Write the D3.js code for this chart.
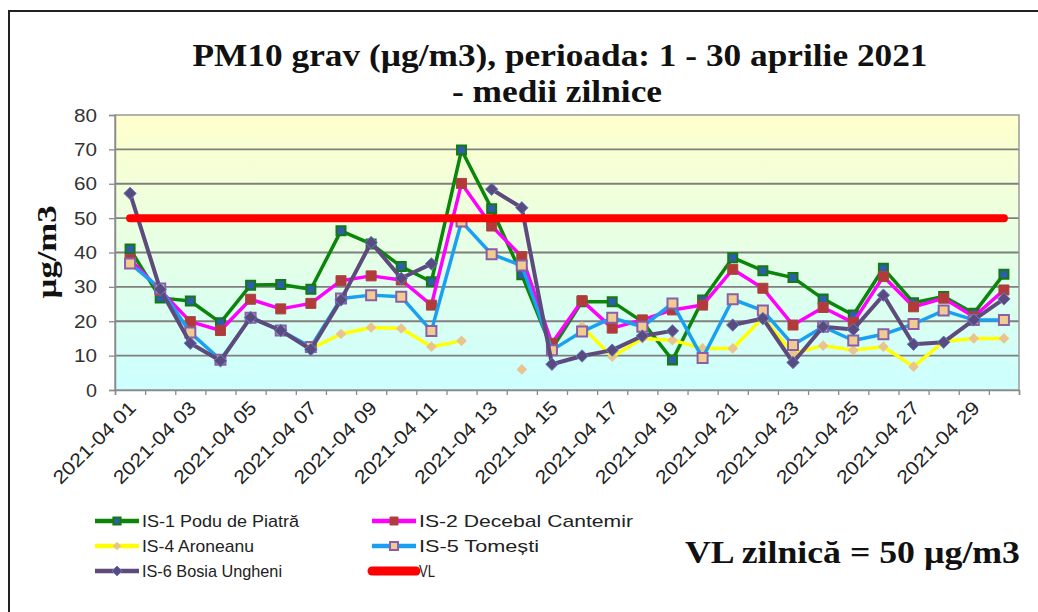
<!DOCTYPE html>
<html>
<head>
<meta charset="utf-8">
<script src="https://cdn.jsdelivr.net/npm/d3@7"></script>
<style>
  html, body { margin: 0; padding: 0; background: #ffffff; }
  svg { display: block; }
</style>
</head>
<body>
<svg id="chart" width="1038" height="612"></svg>
<script>
// ---------- data ----------
const categories = ["2021-04 01","2021-04 02","2021-04 03","2021-04 04","2021-04 05","2021-04 06","2021-04 07","2021-04 08","2021-04 09","2021-04 10",
  "2021-04 11","2021-04 12","2021-04 13","2021-04 14","2021-04 15","2021-04 16","2021-04 17","2021-04 18","2021-04 19","2021-04 20",
  "2021-04 21","2021-04 22","2021-04 23","2021-04 24","2021-04 25","2021-04 26","2021-04 27","2021-04 28","2021-04 29","2021-04 30"];
const labelledCategories = ["2021-04 01","2021-04 03","2021-04 05","2021-04 07","2021-04 09","2021-04 11","2021-04 13","2021-04 15",
  "2021-04 17","2021-04 19","2021-04 21","2021-04 23","2021-04 25","2021-04 27","2021-04 29"];
const yTicks = [0, 10, 20, 30, 40, 50, 60, 70, 80];

const is1 = [41.0, 26.8, 25.9, 19.6, 30.5, 30.7, 29.3, 46.3, 42.5, 35.9, 31.5, 69.8, 52.7, 33.5, 12.0, 25.7, 25.7, 19.9, 8.7, 26.2,
             38.5, 34.7, 32.7, 26.5, 21.8, 35.4, 25.4, 27.2, 22.3, 33.7];
const is2 = [38.0, 29.0, 19.9, 17.3, 26.4, 23.6, 25.2, 31.8, 33.2, 32.0, 24.7, 60.1, 47.7, 38.8, 13.6, 26.0, 18.0, 20.4, 23.3, 24.7,
             35.1, 29.6, 18.9, 24.0, 19.6, 33.0, 24.2, 26.7, 21.3, 29.1];
const is4 = [null, null, null, null, null, null, 12.0, 16.3, 18.2, 17.9, 12.6, 14.3, null, 6.0, null, 18.5, 9.7, 15.0, 14.5, 12.1,
             12.1, 21.0, 10.7, 12.9, 11.6, 12.6, 6.8, 14.1, 15.0, 15.0];
const is5 = [36.8, 29.5, 16.7, 8.8, 21.0, 17.3, 12.5, 26.6, 27.6, 27.1, 17.2, 49.0, 39.5, 36.2, 11.6, 17.0, 21.0, 18.4, 25.2, 9.3,
             26.4, 23.1, 13.1, 18.4, 14.4, 16.2, 19.2, 23.1, 20.4, 20.4];
const is6 = [57.2, 29.3, 13.6, 8.5, 21.1, 17.3, 11.8, 26.2, 42.9, 32.5, 36.7, null, 58.4, 53.0, 7.5, 9.9, 11.6, 15.7, 17.2, null,
             18.9, 20.8, 8.0, 18.4, 17.6, 27.6, 13.3, 13.9, 20.4, 26.5];
const vl = categories.map(() => 50);

const seriesNames = ["IS-1 Podu de Piatră", "IS-2 Decebal Cantemir", "IS-4 Aroneanu", "IS-5 Tomești", "IS-6 Bosia Ungheni", "VL"];

// ---------- styles ----------
const styles = [
  { values: is1, line: "#0b860b", width: 3.5, marker: "square", size: 9, fill: "#2c5fa8", stroke: "#137a13", sw: 2 },
  { values: is2, line: "#ff00ff", width: 3.5, marker: "square", size: 10, fill: "#b23a3a", stroke: "#a84444", sw: 1 },
  { values: is4, line: "#ffff00", width: 3.5, marker: "diamond", size: 12, fill: "#e9c48e", stroke: "none", sw: 0 },
  { values: is5, line: "#1aa0f0", width: 3.5, marker: "square", size: 10, fill: "#f1cc92", stroke: "#8a5fa8", sw: 2 },
  { values: is6, line: "#5f4a7e", width: 4, marker: "diamond", size: 14, fill: "#5b4a80", stroke: "#5f7fc0", sw: 1 },
  { values: vl, line: "#ff0000", width: 8, marker: null }
];
const legendTextLen = [157, 214, 112, 120, 140, 16];

const svg = d3.select("#chart");
const W = 1038, H = 612;
const plot = { left: 115, right: 1019, top: 115, bottom: 390 };

svg.append("rect").attr("x", 0).attr("y", 0).attr("width", W).attr("height", H).attr("fill", "#ffffff");
// outer frame (cut by the picture's right and bottom edges)
svg.append("rect").attr("x", 9).attr("y", 11).attr("width", 1060).attr("height", 640)
  .attr("fill", "none").attr("stroke", "#222").attr("stroke-width", 2);

const x = d3.scaleBand().domain(categories).range([plot.left, plot.right]).padding(0);
const xIdx = d3.scaleLinear().domain([0, categories.length]).range([plot.left, plot.right]);
const y = d3.scaleLinear().domain([0, 80]).range([plot.bottom, plot.top]);
const cx = c => x(c) + x.bandwidth() / 2;

// background gradient
const defs = svg.append("defs");
const grad = defs.append("linearGradient").attr("id", "bg").attr("x1", 0).attr("y1", 0).attr("x2", 0).attr("y2", 1);
grad.append("stop").attr("offset", "0%").attr("stop-color", "#ffffcc");
grad.append("stop").attr("offset", "100%").attr("stop-color", "#ccffff");
svg.append("rect").attr("x", plot.left).attr("y", plot.top)
  .attr("width", plot.right - plot.left).attr("height", plot.bottom - plot.top)
  .attr("fill", "url(#bg)");

// gridlines
svg.append("g").selectAll("line").data(yTicks.filter(t => t > 0 && t < 80)).join("line")
  .attr("x1", plot.left).attr("x2", plot.right)
  .attr("y1", d => y(d)).attr("y2", d => y(d))
  .attr("stroke", "#7f7f7f").attr("stroke-width", 1.8);

// plot border
svg.append("rect").attr("x", plot.left).attr("y", plot.top)
  .attr("width", plot.right - plot.left).attr("height", plot.bottom - plot.top)
  .attr("fill", "none").attr("stroke", "#9a9a9a").attr("stroke-width", 1.5);

// y axis
const yAxis = svg.append("g").attr("transform", `translate(${plot.left},0)`)
  .call(d3.axisLeft(y).tickValues(yTicks).tickSize(6).tickPadding(12));
yAxis.select(".domain").attr("stroke", "#8a8a8a").attr("stroke-width", 1.5);
yAxis.selectAll(".tick line").attr("stroke", "#8a8a8a").attr("stroke-width", 1.3);
yAxis.selectAll(".tick text").attr("font-family", "Arial, 'Liberation Sans', sans-serif")
  .attr("font-size", 19).attr("fill", "#333")
  .attr("textLength", d => d === 0 ? 11 : 23).attr("lengthAdjust", "spacingAndGlyphs");

// x axis tick marks at category boundaries
const xTickAxis = svg.append("g").attr("transform", `translate(0,${plot.bottom})`)
  .call(d3.axisBottom(xIdx).tickValues(d3.range(0, categories.length + 1)).tickSize(5).tickFormat(""));
xTickAxis.select(".domain").attr("stroke", "#8a8a8a").attr("stroke-width", 1.5);
xTickAxis.selectAll(".tick line").attr("stroke", "#8a8a8a").attr("stroke-width", 1.3);

// x axis labels
const xLab = svg.append("g").attr("transform", `translate(0,${plot.bottom})`)
  .call(d3.axisBottom(x).tickValues(labelledCategories).tickSize(0).tickPadding(0));
xLab.select(".domain").remove();
xLab.selectAll(".tick text")
  .attr("font-family", "Arial, 'Liberation Sans', sans-serif").attr("font-size", 19).attr("fill", "#222")
  .attr("text-anchor", "end").attr("dy", 0).attr("y", 0)
  .attr("textLength", 108).attr("lengthAdjust", "spacingAndGlyphs")
  .attr("transform", "translate(7,19) rotate(-45)");

// series
const lineGen = d3.line().defined(d => d.v !== null).x(d => cx(d.c)).y(d => y(d.v));

function markerPath(type, s) {
  if (type === "square") return d3.symbol().type(d3.symbolSquare).size(s * s)();
  return d3.symbol().type(d3.symbolDiamond2).size(s * s / 2)();
}

styles.forEach((st, i) => {
  const pts = st.values.map((v, j) => ({ c: categories[j], v }));
  const g = svg.append("g");
  g.append("path").datum(pts).attr("d", lineGen)
    .attr("fill", "none").attr("stroke", st.line).attr("stroke-width", st.width)
    .attr("stroke-linejoin", "round").attr("stroke-linecap", st.marker ? "butt" : "round");
  if (st.marker) {
    g.selectAll("path.m").data(pts.filter(p => p.v !== null)).join("path").attr("class", "m")
      .attr("d", markerPath(st.marker, st.size))
      .attr("transform", p => `translate(${cx(p.c)},${y(p.v)})`)
      .attr("fill", st.fill).attr("stroke", st.stroke).attr("stroke-width", st.sw);
  }
});

// titles
svg.append("text").attr("x", 560).attr("y", 66).attr("text-anchor", "middle")
  .attr("font-family", "'Liberation Serif', 'Times New Roman', serif").attr("font-weight", "bold")
  .attr("font-size", 31).attr("fill", "#111")
  .attr("textLength", 735).attr("lengthAdjust", "spacingAndGlyphs")
  .text("PM10 grav (µg/m3), perioada: 1 - 30 aprilie 2021");
svg.append("text").attr("x", 557).attr("y", 102).attr("text-anchor", "middle")
  .attr("font-family", "'Liberation Serif', 'Times New Roman', serif").attr("font-weight", "bold")
  .attr("font-size", 31).attr("fill", "#111")
  .attr("textLength", 210).attr("lengthAdjust", "spacingAndGlyphs")
  .text("- medii zilnice");

// y axis title
svg.append("text").attr("transform", "translate(56,252) rotate(-90)").attr("text-anchor", "middle")
  .attr("font-family", "'Liberation Serif', 'Times New Roman', serif").attr("font-weight", "bold")
  .attr("font-size", 28).attr("fill", "#111")
  .attr("textLength", 93).attr("lengthAdjust", "spacingAndGlyphs")
  .text("µg/m3");

// legend
const legendPos = [[95, 521], [372, 521], [95, 546], [372, 546], [95, 571], [372, 571]];
styles.forEach((st, si) => {
  const [lx, ly] = legendPos[si];
  const g = svg.append("g").attr("transform", `translate(${lx},${ly})`);
  g.append("line").attr("x1", 0).attr("x2", 44).attr("y1", 0).attr("y2", 0)
    .attr("stroke", st.line).attr("stroke-width", si === 5 ? 9 : 4.5).attr("stroke-linecap", si === 5 ? "round" : "butt");
  if (st.marker) {
    g.append("path").attr("d", markerPath(st.marker, st.size * 0.8)).attr("transform", "translate(22,0)")
      .attr("fill", st.fill).attr("stroke", st.stroke).attr("stroke-width", st.sw);
  }
  g.append("text").attr("x", 47).attr("y", 6)
    .attr("font-family", "Arial, 'Liberation Sans', sans-serif").attr("font-size", 17).attr("fill", "#222")
    .attr("textLength", legendTextLen[si]).attr("lengthAdjust", "spacingAndGlyphs")
    .text(seriesNames[si]);
});

svg.append("text").attr("x", 685).attr("y", 563)
  .attr("font-family", "'Liberation Serif', 'Times New Roman', serif").attr("font-weight", "bold")
  .attr("font-size", 31).attr("fill", "#111")
  .attr("textLength", 335).attr("lengthAdjust", "spacingAndGlyphs")
  .text("VL zilnică = 50 µg/m3");
</script>
</body>
</html>
